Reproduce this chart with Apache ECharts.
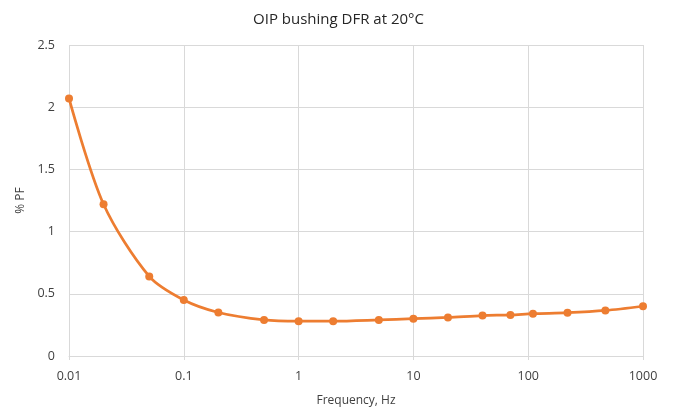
<!DOCTYPE html>
<html>
<head>
<meta charset="utf-8">
<script src="https://cdn.jsdelivr.net/npm/echarts@6/dist/echarts.min.js"></script>
<style>
  html, body { margin: 0; padding: 0; background: #fff; }
</style>
</head>
<body>
<div id="main" style="width: 677px;height:412px;"></div>
<script>
// frequencies (Hz) and power factor (%)
var freq = [0.01, 0.02, 0.05, 0.1, 0.2, 0.5, 1, 2, 5, 10, 20, 40, 70, 110, 220, 470, 1000];
var pf = [2.07, 1.22, 0.64, 0.45, 0.35, 0.29, 0.28, 0.28, 0.29, 0.30, 0.31, 0.325, 0.33, 0.34, 0.348, 0.366, 0.40];
var yTicks = [0, 0.5, 1, 1.5, 2, 2.5];

var fontFam = '"Open Sans", "Noto Sans", sans-serif';
var gridGray = '#d9d9d9';
var textGray = '#404040';

var myChart = echarts.init(document.getElementById('main'));

var points = freq.map(function (f, i) { return [f, pf[i]]; });

var option = {
  backgroundColor: '#fff',
  animation: false,
  title: {
    text: 'OIP bushing DFR at 20°C',
    left: 'center',
    top: 7,
    textStyle: {
      fontFamily: fontFam,
      fontSize: 15,
      fontWeight: 'normal',
      color: '#262626'
    }
  },
  grid: {
    left: 69,
    right: 34,
    top: 45,
    bottom: 56
  },
  xAxis: {
    type: 'log',
    logBase: 10,
    min: 0.01,
    max: 1000,
    name: 'Frequency, Hz',
    nameLocation: 'middle',
    nameGap: 39,
    nameTextStyle: { fontFamily: fontFam, fontSize: 12, color: textGray },
    axisLine: { show: true, lineStyle: { color: gridGray, width: 1 } },
    axisTick: { show: true, length: 4, lineStyle: { color: gridGray } },
    axisLabel: {
      fontFamily: fontFam, fontSize: 12.5, color: textGray, margin: 14,
      formatter: function (v) { return String(+v.toPrecision(6)); }
    },
    splitLine: { show: true, lineStyle: { color: gridGray, width: 1 } },
    minorTick: { show: false },
    minorSplitLine: { show: false }
  },
  yAxis: {
    type: 'value',
    min: yTicks[0],
    max: yTicks[yTicks.length - 1],
    interval: 0.5,
    name: '% PF',
    nameLocation: 'middle',
    nameRotate: 90,
    nameGap: 42,
    nameTextStyle: { fontFamily: fontFam, fontSize: 12, color: textGray },
    axisLine: { show: false },
    axisTick: { show: false },
    axisLabel: { fontFamily: fontFam, fontSize: 12.5, color: textGray, margin: 14 },
    splitLine: { show: true, lineStyle: { color: gridGray, width: 1 } }
  },
  series: [
    {
      type: 'line',
      data: points,
      smooth: 0.3,
      symbol: 'circle',
      symbolSize: 8,
      lineStyle: { color: '#ed7d31', width: 2.75 },
      itemStyle: { color: '#ed7d31' }
    }
  ]
};

myChart.setOption(option);
</script>
</body>
</html>
